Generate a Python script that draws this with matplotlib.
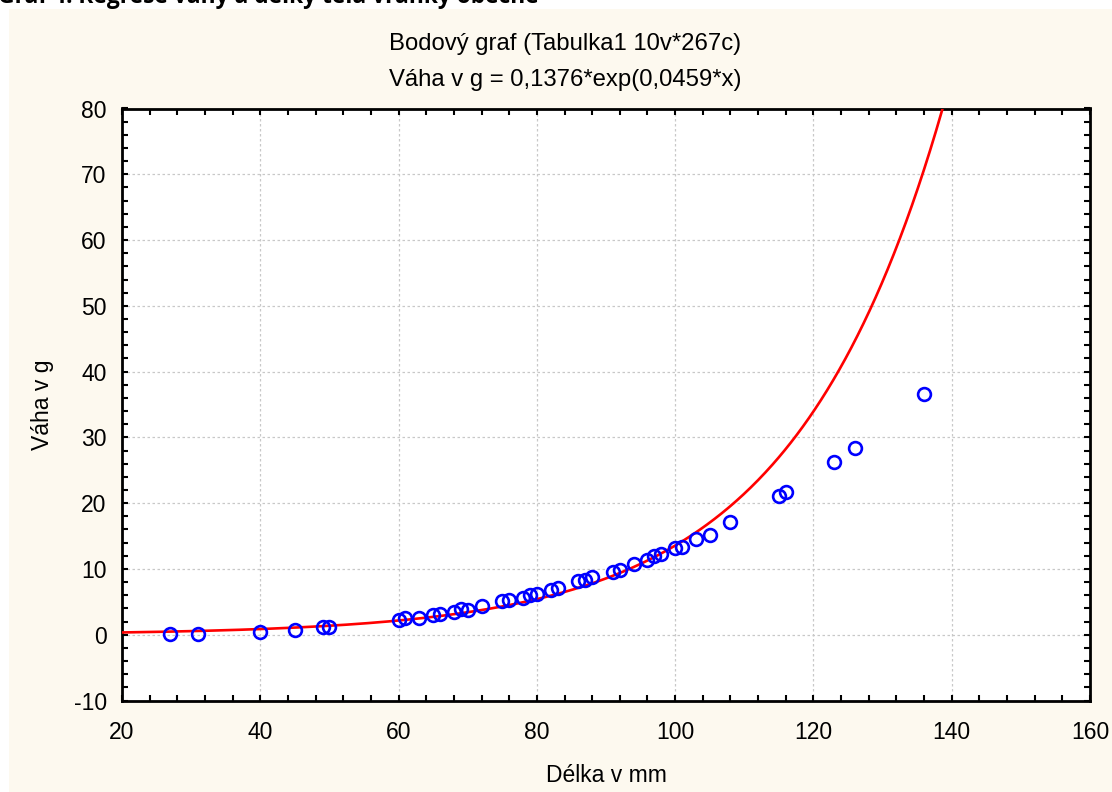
import numpy as np
import matplotlib
matplotlib.use("Agg")
import matplotlib.pyplot as plt
from matplotlib.patches import Rectangle
from matplotlib.ticker import MultipleLocator

# Body length (mm) and weight (g) of individual fish
length_mm = [27, 31, 40, 45, 49, 50, 60, 61, 63, 65, 66, 68, 69, 70, 72, 75, 76,
             78, 79, 80, 82, 83, 86, 87, 88, 91, 92, 94, 96, 97, 98, 100, 101,
             103, 105, 108, 115, 116, 123, 126, 136]
weight_g = [0.1, 0.1, 0.35, 0.75, 1.1, 1.1, 2.3, 2.5, 2.5, 3.0, 3.1, 3.5, 3.9,
            3.8, 4.4, 5.1, 5.3, 5.6, 6.0, 6.2, 6.8, 7.1, 8.1, 8.3, 8.8, 9.5,
            9.8, 10.8, 11.4, 12.0, 12.3, 13.2, 13.4, 14.5, 15.2, 17.1, 21.1,
            21.7, 26.3, 28.4, 36.6]

# Fitted exponential model
coef_a = 0.1376
coef_b = 0.0459

x_ticks = [20, 40, 60, 80, 100, 120, 140, 160]
y_ticks = [-10, 0, 10, 20, 30, 40, 50, 60, 70, 80]

plt.rcParams['font.family'] = ['Liberation Sans', 'DejaVu Sans']

W, H = 1112, 792
fig = plt.figure(figsize=(W / 100, H / 100), dpi=100, facecolor='white')

# beige page panel behind the chart
fig.patches.append(Rectangle((9 / W, 0), 1 - 9 / W, 1 - 9.3 / H,
                             transform=fig.transFigure, facecolor='#FDF9EF',
                             edgecolor='none', zorder=-5))

# caption from the document above the chart (only its lower part is visible)
fig.text(-2 / W, 1 - 3 / H, "Graf 4: Regrese váhy a délky těla vranky obecné",
         family=['Open Sans', 'DejaVu Sans'], fontweight='bold', fontsize=16.4,
         ha='left', va='baseline', color='black')

ax = fig.add_axes([122 / W, (H - 700.5) / H, (1090 - 122) / W, (700.5 - 108.5) / H])
ax.set_facecolor('white')
ax.set_zorder(2)

xs = np.linspace(20, 160, 800)
ys = coef_a * np.exp(coef_b * xs)
ax.plot(xs, ys, color='#FF0000', lw=1.9, zorder=3)
ax.plot(length_mm, weight_g, linestyle='none', marker='o', markersize=9.2,
        markerfacecolor='none', markeredgecolor='#0000FF', markeredgewidth=1.9,
        zorder=4)

ax.set_xlim(20, 160)
ax.set_ylim(-10, 80)
ax.set_xticks(x_ticks)
ax.set_yticks(y_ticks)
ax.set_xticklabels([str(v) for v in x_ticks])
ax.set_yticklabels([str(v) for v in y_ticks])
ax.xaxis.set_minor_locator(MultipleLocator(4))
ax.yaxis.set_minor_locator(MultipleLocator(2))

ax.tick_params(which='both', direction='in', top=True, right=True,
               width=1.5, color='black')
ax.tick_params(which='major', length=4)
ax.tick_params(which='minor', length=4)
ax.tick_params(axis='x', which='major', labelsize=16.5, pad=15)
ax.tick_params(axis='y', which='major', labelsize=16.5, pad=11)

for sp in ax.spines.values():
    sp.set_linewidth(2.0)
    sp.set_color('black')

ax.grid(True, which='major', color='#C8C8C8', linestyle=(0, (2, 2)), lw=0.9)
ax.set_axisbelow(True)

ax.set_xlabel("Délka v mm", fontsize=16.5, labelpad=14)
ax.set_ylabel("Váha v g", fontsize=16.5, labelpad=14)

fig.text(565 / W, 1 - 44 / H, "Bodový graf (Tabulka1 10v*267c)", fontsize=17.2,
         ha='center', va='center')
fig.text(565 / W, 1 - 80 / H, "Váha v g = 0,1376*exp(0,0459*x)", fontsize=17.2,
         ha='center', va='center')

fig.savefig("out.png", dpi=100, facecolor=fig.get_facecolor())
